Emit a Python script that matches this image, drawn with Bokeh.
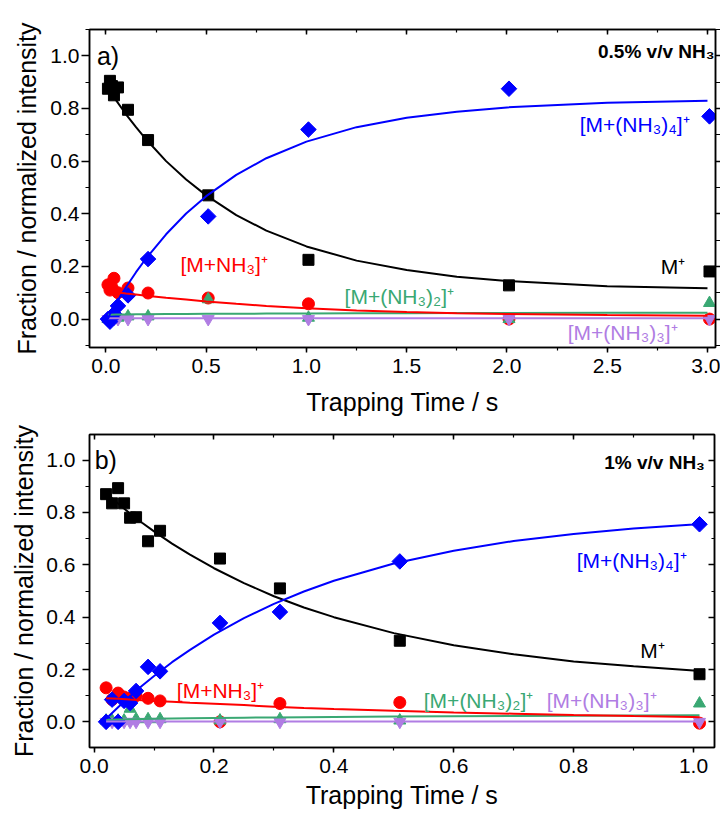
import numpy as np
from bokeh.plotting import figure
from bokeh.models import (Range1d, SingleIntervalTicker, LinearAxis, Label,
                          NumeralTickFormatter, CustomJSTickFormatter)
from bokeh.layouts import column
from bokeh.embed import file_html
from bokeh.resources import INLINE

FONT = "Liberation Sans"
BLACK = "#000000"
RED = "#FF0000"
BLUE = "#0000FF"
GREEN = "#3AA873"
PURPLE = "#B07DE3"

# ---------------- Panel a: 0.5% v/v NH3 ----------------
t_a = [0.01, 0.02, 0.03, 0.04, 0.06, 0.11, 0.21, 0.51, 1.01, 2.01, 3.01]
m_a = [0.875, 0.905, 0.885, 0.85, 0.88, 0.795, 0.68, 0.47, 0.225, 0.128, 0.181]
n1_a = [0.13, 0.11, 0.12, 0.155, 0.10, 0.118, 0.099, 0.08, 0.058, 0.0, 0.0]
n2_a = [0.0, 0.0, 0.0, 0.0, 0.005, 0.01, 0.01, 0.075, 0.005, 0.0, 0.061]
n3_a = [0.0, 0.0, 0.0, 0.0, 0.0, 0.0, 0.0, 0.0, 0.0, 0.0, 0.0]
n4_a = [0.0, -0.01, 0.005, 0.02, 0.05, 0.09, 0.228, 0.39, 0.72, 0.875, 0.77]

# fitted curves
ct_a = [0.01, 0.02, 0.05, 0.1, 0.15, 0.2, 0.3, 0.4, 0.5, 0.65, 0.8, 1.0, 1.25, 1.5, 1.75, 2.0, 2.5, 3.0]
cm_a = [0.878, 0.866, 0.832, 0.778, 0.729, 0.683, 0.600, 0.530, 0.470, 0.395, 0.336, 0.276, 0.222, 0.186, 0.161, 0.145, 0.125, 0.117]
cn4_a = [0.0, 0.020, 0.060, 0.121, 0.178, 0.230, 0.322, 0.401, 0.467, 0.548, 0.611, 0.674, 0.729, 0.765, 0.788, 0.804, 0.822, 0.829]
cn1_a = [0.107, 0.106, 0.102, 0.097, 0.093, 0.089, 0.081, 0.074, 0.067, 0.058, 0.050, 0.041, 0.033, 0.027, 0.022, 0.019, 0.015, 0.013]
cn2_a = [0.016, 0.016, 0.017, 0.017, 0.018, 0.018, 0.019, 0.019, 0.020, 0.020, 0.021, 0.021, 0.022, 0.022, 0.023, 0.023, 0.024, 0.024]
cn3_a = [0.003, 0.003, 0.003, 0.003, 0.003, 0.003, 0.003, 0.003, 0.003, 0.003, 0.003, 0.003, 0.003, 0.003, 0.003, 0.003, 0.003, 0.003]

# ---------------- Panel b: 1% v/v NH3 ----------------
t_b = [0.02, 0.03, 0.04, 0.05, 0.06, 0.07, 0.09, 0.11, 0.21, 0.31, 0.51, 1.01]
m_b = [0.87, 0.835, 0.893, 0.835, 0.78, 0.782, 0.69, 0.73, 0.624, 0.51, 0.31, 0.182]
n1_b = [0.13, 0.085, 0.11, 0.095, 0.09, 0.10, 0.09, 0.08, 0.0, 0.07, 0.074, -0.005]
n2_b = [0.005, 0.005, 0.005, 0.005, 0.05, 0.01, 0.01, 0.01, 0.005, 0.01, 0.005, 0.07]
n3_b = [0.0, 0.0, 0.0, 0.0, 0.0, 0.0, 0.0, 0.0, 0.0, 0.0, 0.0, 0.0]
n4_b = [0.0, 0.085, 0.0, 0.08, 0.072, 0.118, 0.21, 0.193, 0.378, 0.42, 0.613, 0.755]

ct_b = [0.02, 0.04, 0.06, 0.08, 0.1, 0.13, 0.16, 0.2, 0.25, 0.3, 0.35, 0.4, 0.5, 0.6, 0.7, 0.8, 0.9, 1.0, 1.01]
cm_b = [0.873, 0.834, 0.796, 0.761, 0.728, 0.681, 0.639, 0.587, 0.530, 0.480, 0.437, 0.400, 0.339, 0.293, 0.258, 0.231, 0.212, 0.196, 0.195]
cn4_b = [0.012, 0.056, 0.098, 0.138, 0.175, 0.228, 0.275, 0.333, 0.396, 0.451, 0.498, 0.539, 0.605, 0.654, 0.691, 0.718, 0.739, 0.754, 0.756]
cn1_b = [0.090, 0.088, 0.085, 0.083, 0.080, 0.077, 0.073, 0.069, 0.064, 0.058, 0.053, 0.049, 0.042, 0.036, 0.031, 0.026, 0.022, 0.019, 0.018]
cn2_b = [0.008, 0.009, 0.010, 0.011, 0.012, 0.013, 0.014, 0.015, 0.016, 0.017, 0.018, 0.019, 0.020, 0.021, 0.022, 0.023, 0.024, 0.025, 0.025]
cn3_b = [0.001, 0.001, 0.001, 0.001, 0.001, 0.001, 0.001, 0.001, 0.001, 0.001, 0.001, 0.001, 0.001, 0.001, 0.001, 0.001, 0.001, 0.001, 0.001]

X_TITLE = "Trapping Time / s"
Y_TITLE = "Fraction / normalized intensity"
LBL_M = "M\u207A"
LBL_1 = "[M+NH\u2083]\u207A"
LBL_2 = "[M+(NH\u2083)\u2082]\u207A"
LBL_3 = "[M+(NH\u2083)\u2083]\u207A"
LBL_4 = "[M+(NH\u2083)\u2084]\u207A"


def make_panel(x_range, y_range, x_interval, fw, fh, bl, br, bt, bb,
               x_title_standoff, y_tick_out, y_label_standoff, y_title_standoff,
               right_out):
    p = figure(x_range=Range1d(*x_range), y_range=Range1d(*y_range),
               frame_width=fw, frame_height=fh,
               min_border_left=bl, min_border_right=br,
               min_border_top=bt, min_border_bottom=bb,
               output_backend="svg", toolbar_location=None,
               background_fill_color="white", border_fill_color="white")
    p.xgrid.visible = False
    p.ygrid.visible = False
    p.outline_line_color = BLACK
    p.outline_line_width = 1.5

    xb = p.xaxis[0]
    xb.ticker = SingleIntervalTicker(interval=x_interval, num_minor_ticks=2)
    xb.formatter = NumeralTickFormatter(format="0.0")
    xb.axis_label = X_TITLE
    xb.axis_label_text_font = FONT
    xb.axis_label_text_font_size = "25px"
    xb.axis_label_text_font_style = "normal"
    xb.axis_label_text_color = BLACK
    xb.axis_label_standoff = x_title_standoff
    xb.major_label_text_font = FONT
    xb.major_label_text_font_size = "21px"
    xb.major_label_text_color = BLACK
    xb.major_label_standoff = 6
    xb.major_tick_out = 5
    xb.major_tick_in = 0
    xb.minor_tick_out = 3
    xb.minor_tick_in = 0
    xb.axis_line_width = 1.5
    xb.major_tick_line_width = 1.5
    xb.minor_tick_line_width = 1.2

    yl = p.yaxis[0]
    yl.ticker = SingleIntervalTicker(interval=0.2, num_minor_ticks=2)
    yl.formatter = NumeralTickFormatter(format="0.0")
    yl.axis_label = Y_TITLE
    yl.axis_label_text_font = FONT
    yl.axis_label_text_font_size = "25px"
    yl.axis_label_text_font_style = "normal"
    yl.axis_label_text_color = BLACK
    yl.axis_label_standoff = y_title_standoff
    yl.major_label_text_font = FONT
    yl.major_label_text_font_size = "21px"
    yl.major_label_text_color = BLACK
    yl.major_label_standoff = y_label_standoff
    yl.major_tick_out = y_tick_out
    yl.major_tick_in = 0
    yl.minor_tick_out = 4
    yl.minor_tick_in = 0
    yl.axis_line_width = 1.5
    yl.major_tick_line_width = 1.5
    yl.minor_tick_line_width = 1.2

    empty = CustomJSTickFormatter(code="return '';")
    top = LinearAxis(ticker=SingleIntervalTicker(interval=x_interval, num_minor_ticks=2),
                     formatter=empty, major_tick_in=5, major_tick_out=0,
                     minor_tick_in=3, minor_tick_out=0, major_label_standoff=0,
                     axis_line_width=1.5, major_tick_line_width=1.5, minor_tick_line_width=1.2)
    if right_out:
        r_in, r_out, rm_in, rm_out = 0, 9, 0, 5
    else:
        r_in, r_out, rm_in, rm_out = 6, 0, 3, 0
    right = LinearAxis(ticker=SingleIntervalTicker(interval=0.2, num_minor_ticks=2),
                       formatter=empty, major_tick_in=r_in, major_tick_out=r_out,
                       minor_tick_in=rm_in, minor_tick_out=rm_out, major_label_standoff=0,
                       axis_line_width=1.5, major_tick_line_width=1.5, minor_tick_line_width=1.2)
    p.add_layout(top, "above")
    p.add_layout(right, "right")
    return p


def draw_series(p, t, m, n1, n2, n3, n4, ct, cm, cn1, cn2, cn3, cn4):
    p.scatter(t, m, marker="square", size=11, color=BLACK)
    p.scatter(t, n1, marker="circle", size=12, color=RED)
    p.scatter(t, n2, marker="triangle", size=12, color=GREEN)
    p.scatter(t, n3, marker="inverted_triangle", size=12, color=PURPLE)
    p.scatter(t, n4, marker="square", angle=np.pi / 4, size=11, color=BLUE)
    p.line(ct, cn2, line_width=2, color=GREEN)
    p.line(ct, cn3, line_width=2, color=PURPLE)
    p.line(ct, cm, line_width=2, color=BLACK)
    p.line(ct, cn4, line_width=2, color=BLUE)
    p.line(ct, cn1, line_width=2, color=RED)


def add_label(p, x, y, text, color, size="21px", align="left", style="normal"):
    p.add_layout(Label(x=x, y=y, text=text, text_color=color, text_font=FONT,
                       text_font_size=size, text_align=align, text_baseline="middle",
                       text_font_style=style))


# Panel a
pa = make_panel((-0.082, 3.04), (-0.108, 1.100), 0.5, 626, 318, 83, 11, 29, 75,
                12, 8, 2, 6, True)
draw_series(pa, t_a, m_a, n1_a, n2_a, n3_a, n4_a, ct_a, cm_a, cn1_a, cn2_a, cn3_a, cn4_a)
add_label(pa, -0.045, 1.0, "a)", BLACK, size="25px")
add_label(pa, 3.035, 1.015, "0.5% v/v NH\u2083", BLACK, size="19px", align="right", style="bold")
add_label(pa, 2.363, 0.738, LBL_4, BLUE)
add_label(pa, 2.767, 0.199, LBL_M, BLACK)
add_label(pa, 0.372, 0.206, LBL_1, RED)
add_label(pa, 1.19, 0.085, LBL_2, GREEN)
add_label(pa, 2.303, -0.052, LBL_3, PURPLE)

# Panel b
pb = make_panel((-0.0077, 1.035), (-0.098, 1.098), 0.2, 625, 313, 89, 5, 12, 68,
                5, 7, 7, 5, False)
draw_series(pb, t_b, m_b, n1_b, n2_b, n3_b, n4_b, ct_b, cm_b, cn1_b, cn2_b, cn3_b, cn4_b)
add_label(pb, 0.001, 1.0, "b)", BLACK, size="25px")
add_label(pb, 1.019, 0.99, "1% v/v NH\u2083", BLACK, size="19px", align="right", style="bold")
add_label(pb, 0.805, 0.618, LBL_4, BLUE)
add_label(pb, 0.911, 0.274, LBL_M, BLACK)
add_label(pb, 0.138, 0.121, LBL_1, RED)
add_label(pb, 0.55, 0.083, LBL_2, GREEN)
add_label(pb, 0.755, 0.083, LBL_3, PURPLE)

layout = column(pa, pb)
open("out.html", "w").write(file_html(layout, INLINE))
